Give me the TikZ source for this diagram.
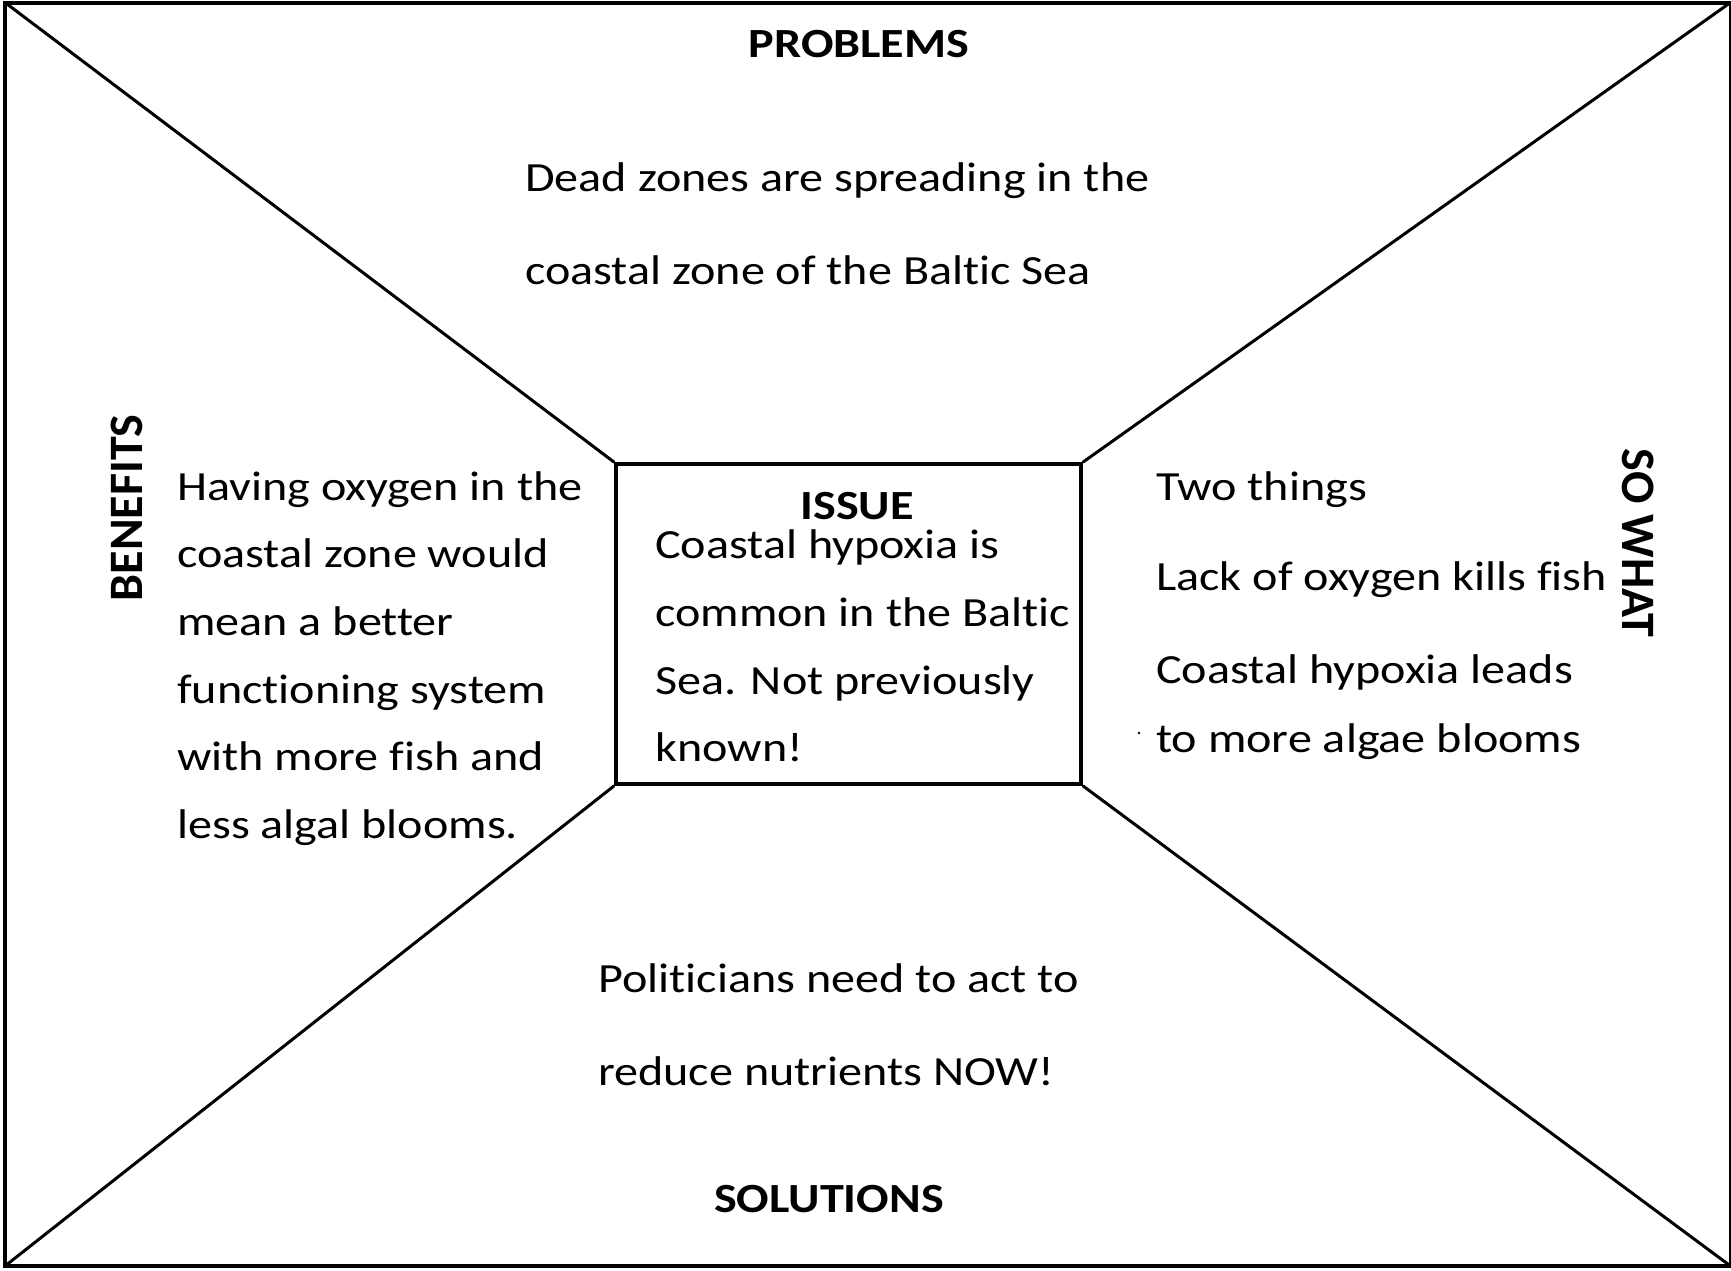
\documentclass[tikz,border=0pt]{standalone}
\usepackage{fontspec}
\setmainfont{Carlito}[FakeStretch=1.16, Ligatures=NoCommon]
\newfontfamily\rotfont{Carlito}[Ligatures=NoCommon]
\tikzset{
  txt/.style={anchor=base west, inner sep=0pt, font=\fontsize{41.5}{48}\selectfont},
  head/.style={anchor=base, inner sep=0pt, font=\fontsize{41.5}{46}\selectfont\bfseries},
  rothead/.style={anchor=base, inner sep=0pt, font=\rotfont\fontsize{48}{52}\selectfont\bfseries},
  diag/.style={line width=3pt},
}
\begin{document}
\begin{tikzpicture}[x=1pt,y=-1pt]
\useasboundingbox (0,0) rectangle (1731,1270);
\fill[white] (0,0) rectangle (1731,1270);
% outer frame corners
\coordinate (TL) at (5,2.5);
\coordinate (TR) at (1730.5,2.5);
\coordinate (BR) at (1730.5,1266);
\coordinate (BL) at (5,1266);
\draw[line width=4pt] (TL) -- (TR) -- (BR) -- (BL) -- cycle;
% central box
\node[draw, line width=3.5pt, minimum width=465pt, minimum height=320pt, inner sep=0pt] (box) at (848.5,624) {};
\draw[diag] (TL) -- (box.north west);
\draw[diag] (TR) -- (box.north east);
\draw[diag] (BR) -- (box.south east);
\draw[diag] (BL) -- (box.south west);
% headings
\node[head] (problems) at (859,57) {PROBLEMS};
\node[head] (solutions) at (829,1212) {SOLUTIONS};
\node[head] (issue) at (857,519) {ISSUE};
\node[rothead, rotate=90] (benefits) at (142,508) {BENEFITS};
\node[rothead, rotate=-90] (sowhat) at (1622,543) {SO WHAT};
% problems text
\node[txt] (p1) at (525,191) {Dead zones are spreading in the};
\node[txt] (p2) at (525,284) {coastal zone of the Baltic Sea};
% benefits text
\node[txt] (b1) at (177,500) {Having oxygen in the};
\node[txt] (b2) at (177,567.5) {coastal zone would};
\node[txt] (b3) at (177,635) {mean a better};
\node[txt] (b4) at (177,703) {functioning system};
\node[txt] (b5) at (177,770) {with more fish and};
\node[txt] (b6) at (177,838) {less algal blooms.};
% issue text
\node[txt] (i1) at (655,558) {Coastal hypoxia is};
\node[txt] (i2) at (655,626) {common in the Baltic};
\node[txt] (i3) at (655,694) {Sea. Not previously};
\node[txt] (i4) at (655,761) {known!};
% so what text
\node[txt] (s1) at (1156,500) {Two things};
\node[txt] (s2) at (1156,590) {Lack of oxygen kills fish};
\node[txt] (s3) at (1156,683) {Coastal hypoxia leads};
\node[txt] (s4) at (1156,752) {to more algae blooms};
\fill (1139,733) circle (1.3pt);
% solutions text
\node[txt] (l1) at (598,992) {Politicians need to act to};
\node[txt] (l2) at (598,1085) {reduce nutrients NOW!};
\end{tikzpicture}
\end{document}
